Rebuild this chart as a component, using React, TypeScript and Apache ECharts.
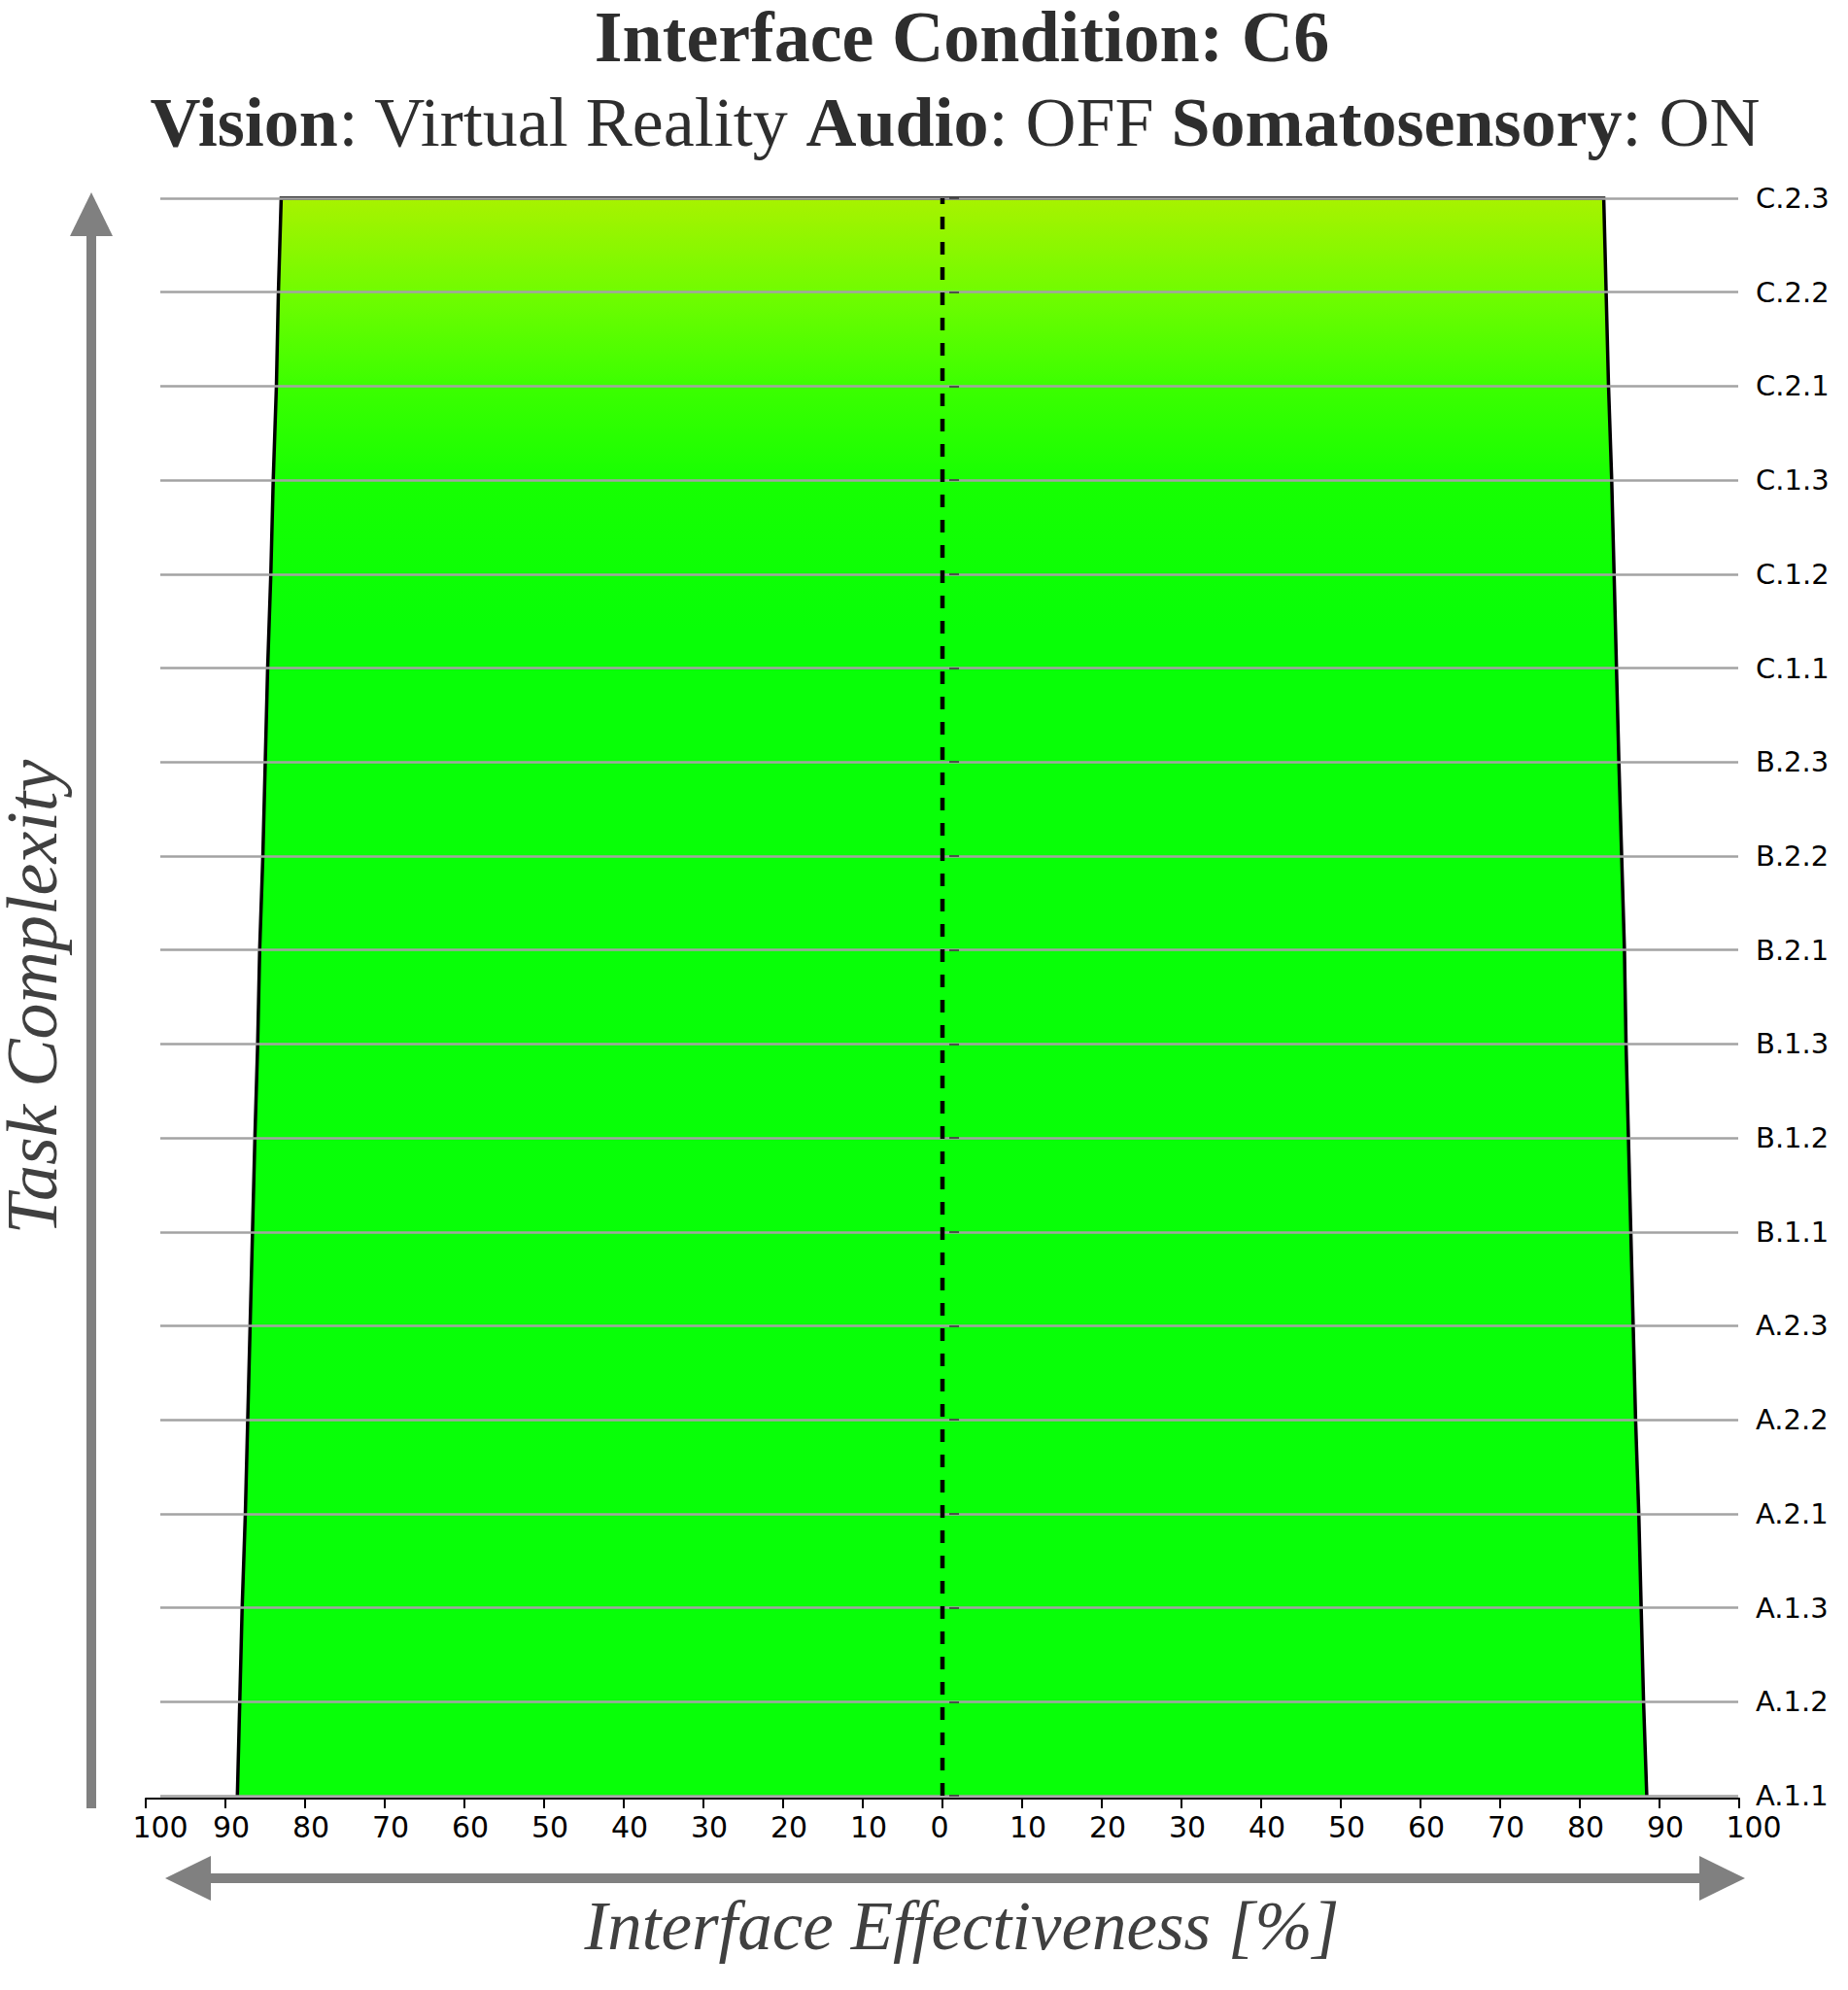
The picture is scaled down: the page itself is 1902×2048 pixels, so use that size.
import React, { useEffect, useRef } from "react";
import * as echarts from "echarts";

const categories = [
  "A.1.1", "A.1.2", "A.1.3", "A.2.1", "A.2.2", "A.2.3",
  "B.1.1", "B.1.2", "B.1.3", "B.2.1", "B.2.2", "B.2.3",
  "C.1.1", "C.1.2", "C.1.3", "C.2.1", "C.2.2", "C.2.3",
];
const leftValues = [88.5, 88.2, 87.9, 87.5, 87.2, 86.9, 86.6, 86.3, 85.95, 85.7, 85.3, 85.0, 84.7, 84.3, 84.0, 83.6, 83.35, 83.0];
const rightValues = [88.4, 88.0, 87.7, 87.4, 87.0, 86.7, 86.4, 86.1, 85.8, 85.6, 85.25, 84.9, 84.6, 84.3, 84.0, 83.6, 83.3, 83.0];

const titleLine1 = "Interface Condition: C6";
const titleLine2Parts = [
  ["b", "Vision"], ["r", ": Virtual Reality "],
  ["b", "Audio"], ["r", ": OFF "],
  ["b", "Somatosensory"], ["r", ": ON"],
];
const xTitle = "Interface Effectiveness [%]";
const yTitle = "Task Complexity";

const fillStops = [
  { offset: 0, color: "#a8f200" },
  { offset: 0.06, color: "#70fc00" },
  { offset: 0.12, color: "#3aff00" },
  { offset: 0.18, color: "#16ff02" },
  { offset: 0.27, color: "#08ff07" },
  { offset: 1, color: "#08ff08" },
];

const SERIF = '"Liberation Serif", "Times New Roman", serif';
const SANS = '"DejaVu Sans", sans-serif';
const ARROW = "#808080";

export default function App() {
  const ref = useRef<HTMLDivElement>(null);
  useEffect(() => {
    if (!ref.current) return;
    const chart = echarts.init(ref.current, undefined, { renderer: "svg" });
    const line2 = titleLine2Parts.map(([k, t]) => `{${k}|${t}}`).join("");
    const tickFont = { fontSize: 30, fontFamily: SANS, color: "#000" };
    const option: any = {
      animation: false,
      backgroundColor: "#ffffff",
      grid: [
        { left: 150, right: 112, top: 204, bottom: 200 },
        { left: 165, right: 113, top: 204, bottom: 200 },
      ],
      xAxis: [
        {
          gridIndex: 0,
          type: "value",
          min: -100,
          max: 100,
          interval: 10,
          offset: 3,
          axisLine: { show: true, lineStyle: { color: "#000", width: 2 } },
          axisTick: { show: true, length: 10, lineStyle: { color: "#000", width: 2 } },
          axisLabel: {
            formatter: (v: number) => {
              const a = Math.abs(v);
              const k = a === 100 ? "h" : a === 0 ? "z" : "n";
              return `{${k}|${a}}`;
            },
            ...tickFont,
            margin: 14,
            rich: {
              h: { ...tickFont, padding: [0, 0, 0, 30] },
              n: { ...tickFont, padding: [0, 0, 0, 12] },
              z: { ...tickFont, padding: [0, 6, 0, 0] },
            },
          },
          splitLine: { show: false },
        },
        { gridIndex: 1, type: "value", min: -100, max: 100, show: false },
      ],
      yAxis: [
        {
          gridIndex: 0,
          type: "category",
          data: categories,
          boundaryGap: false,
          show: false,
        },
        {
          gridIndex: 1,
          type: "category",
          data: categories,
          boundaryGap: false,
          position: "right",
          z: 3,
          axisLine: { show: false },
          axisTick: { show: true, length: 10, lineStyle: { color: "#333", width: 1.5 } },
          axisLabel: { fontSize: 29, fontFamily: SANS, color: "#000", margin: 18 },
          splitLine: { show: true, lineStyle: { color: "#a3a3a3", width: 2.5 } },
        },
      ],
      series: [
        {
          type: "custom",
          xAxisIndex: 0,
          yAxisIndex: 0,
          z: 2,
          data: categories.map((c, i) => [-leftValues[i], rightValues[i], i]),
          encode: { x: [0, 1], y: 2 },
          renderItem: (params: any, api: any) => {
            if (params.dataIndex !== 0) return null;
            const left = categories.map((_, i) => api.coord([-leftValues[i], i]));
            const right = categories.map((_, i) => api.coord([rightValues[i], i])).reverse();
            const pts = [...left, ...right];
            return {
              type: "group",
              children: [
                {
                  type: "polygon",
                  shape: { points: pts },
                  style: {
                    fill: new echarts.graphic.LinearGradient(0, 0, 0, 1, fillStops),
                    stroke: null,
                  },
                },
                {
                  type: "polyline",
                  shape: { points: pts },
                  style: { stroke: "#000", lineWidth: 3.5, fill: null },
                },
              ],
            };
          },
        },
        {
          type: "line",
          xAxisIndex: 0,
          yAxisIndex: 0,
          z: 4,
          symbol: "none",
          data: [[0, categories[0]], [0, categories[categories.length - 1]]],
          lineStyle: { color: "#000", width: 4.5, type: [13, 13] },
        },
      ],
      graphic: [
        // vertical arrow
        { type: "rect", shape: { x: 89, y: 240, width: 10, height: 1621 }, style: { fill: ARROW } },
        { type: "polygon", shape: { points: [[72, 243], [116, 243], [94, 198]] }, style: { fill: ARROW } },
        // horizontal double arrow
        { type: "rect", shape: { x: 214, y: 1928, width: 1538, height: 10 }, style: { fill: ARROW } },
        { type: "polygon", shape: { points: [[170, 1933], [217, 1910], [217, 1956]] }, style: { fill: ARROW } },
        { type: "polygon", shape: { points: [[1796, 1933], [1749, 1910], [1749, 1956]] }, style: { fill: ARROW } },
        // titles
        {
          type: "text",
          x: 990,
          y: 38,
          style: {
            text: titleLine1,
            font: `bold 74px ${SERIF}`,
            lineHeight: 66,
            fill: "#2e2e2e",
            textAlign: "center",
            textVerticalAlign: "middle",
          },
        },
        {
          type: "text",
          x: 983,
          y: 126,
          style: {
            text: line2,
            textAlign: "center",
            textVerticalAlign: "middle",
            rich: {
              b: { fontFamily: SERIF, fontSize: 72, fontWeight: "bold", fill: "#2e2e2e", lineHeight: 72 },
              r: { fontFamily: SERIF, fontSize: 72, fontWeight: "normal", fill: "#2e2e2e", lineHeight: 72 },
            },
          },
        },
        {
          type: "text",
          x: 990,
          y: 1982,
          style: {
            text: xTitle,
            font: `italic 71px ${SERIF}`,
            lineHeight: 72,
            fill: "#404040",
            textAlign: "center",
            textVerticalAlign: "middle",
          },
        },
        {
          type: "text",
          x: 33,
          y: 1026,
          rotation: Math.PI / 2,
          style: {
            text: yTitle,
            font: `italic 74px ${SERIF}`,
            lineHeight: 60,
            fill: "#404040",
            textAlign: "center",
            textVerticalAlign: "middle",
          },
        },
      ],
    };
    chart.setOption(option);
    return () => chart.dispose();
  }, []);
  return (
    <div
      ref={ref}
      style={{ position: "absolute", left: 0, top: 0, width: 1902, height: 2048 }}
    />
  );
}
